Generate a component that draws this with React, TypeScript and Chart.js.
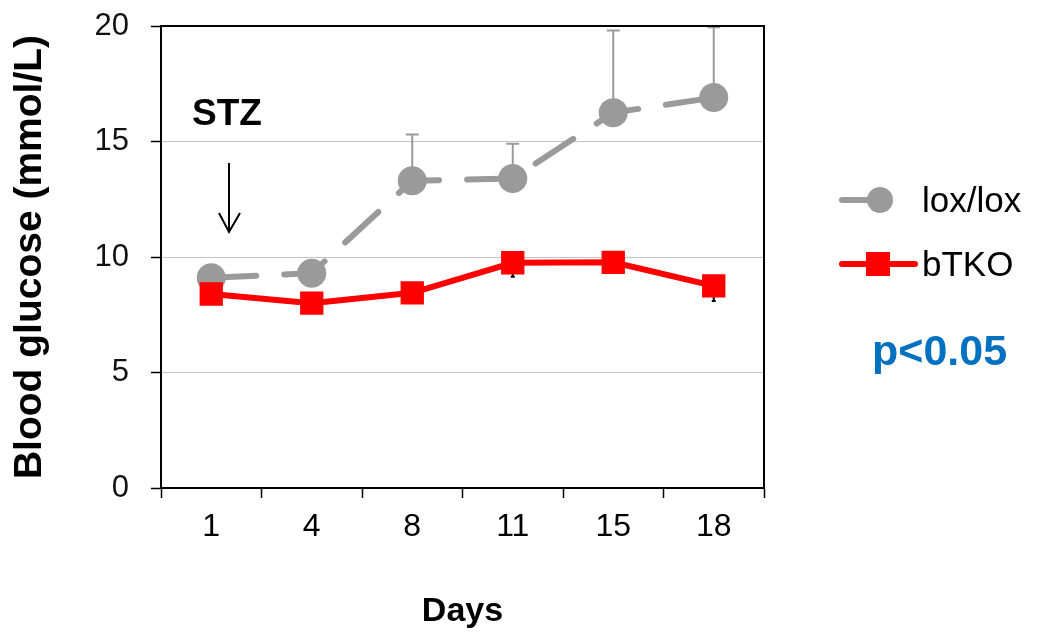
import React, { useEffect, useRef } from 'react';
import { Chart, registerables } from 'chart.js';

Chart.register(...registerables);

const days = ['1', '4', '8', '11', '15', '18'];
const loxMean = [9.1, 9.3, 13.3, 13.4, 16.25, 16.9];
const loxUpper = [9.6, 9.55, 15.3, 14.9, 19.8, 19.95];
const btkoMean = [8.4, 8.0, 8.45, 9.75, 9.77, 8.75];
const btkoLower = [8.0, 7.6, 8.05, 9.15, 9.4, 8.1];
const yTicks = [0, 5, 10, 15, 20];

const FONT = '"Liberation Sans", Arial, sans-serif';
const GRAY = '#9a9a9a';
const RED = '#ff0000';

const errorBars = {
  id: 'errorBars',
  beforeDatasetsDraw(chart: any) {
    const { ctx, scales } = chart;
    const xs = scales.x;
    const ys = scales.y;
    const draw = (means: number[], ends: number[], color: string, cap: number) => {
      ctx.save();
      ctx.strokeStyle = color;
      ctx.lineWidth = 2;
      means.forEach((m, i) => {
        const x = xs.getPixelForValue(i);
        const y1 = ys.getPixelForValue(m);
        const y2 = ys.getPixelForValue(ends[i]);
        ctx.beginPath();
        ctx.moveTo(x, y1);
        ctx.lineTo(x, y2);
        ctx.moveTo(x - cap / 2, y2);
        ctx.lineTo(x + cap / 2, y2);
        ctx.stroke();
      });
      ctx.restore();
    };
    draw(loxMean, loxUpper, GRAY, 13);
    draw(btkoMean, btkoLower, '#000000', 4);
  },
};

const decorations = {
  id: 'decorations',
  afterDraw(chart: any) {
    const { ctx, chartArea } = chart;
    ctx.save();
    ctx.strokeStyle = '#000';
    ctx.lineWidth = 2;
    ctx.beginPath();
    ctx.moveTo(chartArea.left, chartArea.top);
    ctx.lineTo(chartArea.right, chartArea.top);
    ctx.lineTo(chartArea.right, chartArea.bottom);
    ctx.stroke();

    ctx.fillStyle = '#000';
    ctx.font = `bold 37px ${FONT}`;
    ctx.textBaseline = 'alphabetic';
    ctx.textAlign = 'left';
    ctx.fillText('STZ', 192, 125);
    ctx.lineWidth = 2;
    ctx.beginPath();
    ctx.moveTo(229, 163);
    ctx.lineTo(229, 232);
    ctx.moveTo(219, 213);
    ctx.lineTo(229, 232);
    ctx.lineTo(240, 213);
    ctx.stroke();

    ctx.lineCap = 'round';
    ctx.strokeStyle = GRAY;
    ctx.lineWidth = 6;
    ctx.beginPath();
    ctx.moveTo(842, 200);
    ctx.lineTo(880, 200);
    ctx.stroke();
    ctx.fillStyle = GRAY;
    ctx.beginPath();
    ctx.arc(880, 200, 13, 0, Math.PI * 2);
    ctx.fill();

    ctx.strokeStyle = RED;
    ctx.beginPath();
    ctx.moveTo(842, 264);
    ctx.lineTo(915, 264);
    ctx.stroke();
    ctx.fillStyle = RED;
    ctx.fillRect(866, 252, 24, 24);

    ctx.fillStyle = '#000';
    ctx.font = `35px ${FONT}`;
    ctx.fillText('lox/lox', 922, 212);
    ctx.fillText('bTKO', 922, 276);

    ctx.fillStyle = '#0070C0';
    ctx.font = `bold 43px ${FONT}`;
    ctx.fillText('p<0.05', 872, 365);
    ctx.restore();
  },
};

export default function App() {
  const ref = useRef<HTMLCanvasElement>(null);

  useEffect(() => {
    document.body.style.margin = '0';
    if (!ref.current) return;
    const chart = new Chart(ref.current, {
      type: 'line',
      data: {
        labels: days,
        datasets: [
          {
            label: 'lox/lox',
            data: loxMean,
            borderColor: GRAY,
            backgroundColor: GRAY,
            borderWidth: 6,
            borderDash: [45, 28],
            borderCapStyle: 'round',
            pointRadius: 14.5,
            pointBackgroundColor: GRAY,
            pointBorderWidth: 0,
            pointHoverRadius: 14.5,
            order: 1,
          },
          {
            label: 'bTKO',
            data: btkoMean,
            borderColor: RED,
            backgroundColor: RED,
            borderWidth: 6,
            pointStyle: 'rect',
            pointRadius: 16.5,
            pointBackgroundColor: RED,
            pointBorderWidth: 0,
            pointHoverRadius: 16.5,
            order: 0,
          },
        ],
      },
      options: {
        animation: false,
        responsive: false,
        events: [],
        layout: { padding: { top: 26, right: 274, left: 0, bottom: 0 } },
        plugins: {
          legend: { display: false },
          tooltip: { enabled: false },
        },
        scales: {
          x: {
            type: 'category',
            offset: true,
            afterFit: (s: any) => {
              s.height = 148;
              s.paddingLeft = 0;
              s.paddingRight = 0;
            },
            grid: {
              offset: true,
              drawOnChartArea: false,
              drawTicks: true,
              tickLength: 10,
              tickColor: '#000',
              tickWidth: 1.5,
            },
            border: { display: true, color: '#000', width: 2 },
            ticks: {
              color: '#000',
              padding: 10,
              font: { family: FONT, size: 32, lineHeight: 1.2 },
              maxRotation: 0,
            },
            title: {
              display: true,
              text: 'Days',
              color: '#000',
              font: { family: FONT, size: 34, weight: 'bold', lineHeight: 1.2 },
              padding: { top: 0, bottom: 4 },
            },
          },
          y: {
            min: 0,
            max: 20,
            afterFit: (s: any) => {
              s.width = 161;
              s.paddingTop = 0;
              s.paddingBottom = 0;
            },
            afterBuildTicks: (s: any) => {
              s.ticks = yTicks.map((v) => ({ value: v }));
            },
            grid: {
              color: '#c4c4c4',
              lineWidth: 1,
              drawTicks: true,
              tickLength: 10,
              tickColor: '#000',
              tickWidth: 1.5,
            },
            border: { display: true, color: '#000', width: 2 },
            ticks: {
              color: '#111',
              padding: 22,
              font: { family: FONT, size: 31, lineHeight: 1.2 },
            },
            title: {
              display: true,
              text: 'Blood glucose (mmol/L)',
              color: '#000',
              font: { family: FONT, size: 39, weight: 'bold', lineHeight: 1.2 },
              padding: { top: 7, bottom: 0 },
            },
          },
        },
      },
      plugins: [errorBars, decorations],
    } as any);
    return () => chart.destroy();
  }, []);

  return (
    <div style={{ width: 1038, height: 636, position: 'relative', background: '#fff' }}>
      <canvas ref={ref} width={1038} height={636} />
    </div>
  );
}
